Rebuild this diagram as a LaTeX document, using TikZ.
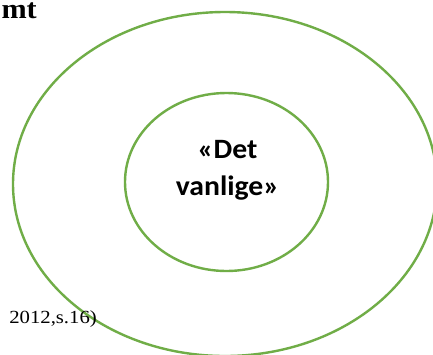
\documentclass[tikz,border=0pt]{standalone}
\usepackage{fontspec}
\setmainfont{Liberation Serif}
\newfontfamily\carlito{Carlito}
\definecolor{ringgreen}{HTML}{70AD47}
\begin{document}
\begin{tikzpicture}[x=1pt,y=-1pt,
  ring/.style={draw=ringgreen,line width=2.4pt},
  lbl/.style={inner sep=0pt}]
\useasboundingbox (0,0) rectangle (433,354);
\clip (0,0) rectangle (433,354);
\fill[white] (0,0) rectangle (433,354);
\draw[ring] (225,184) ellipse [x radius=212, y radius=172];
\draw[ring] (226.5,182) ellipse [x radius=101.5, y radius=89];
\node[lbl,anchor=base] (core1) at (227.5,158) {\scalebox{1.06}[1]{\carlito\bfseries\fontsize{28}{36}\selectfont «Det}};
\node[lbl,anchor=base] (core2) at (227.5,195) {\scalebox{1.06}[1]{\carlito\bfseries\fontsize{28}{36}\selectfont vanlige»}};
\node[lbl,anchor=base east] (title) at (37,18) {\scalebox{1.08}[1]{\bfseries\fontsize{28}{30}\selectfont mt}};
\node[lbl,anchor=base east] (src) at (97,323) {\scalebox{1.12}[1]{\fontsize{18.5}{20}\selectfont 2012,s.16)}};
\end{tikzpicture}
\end{document}
